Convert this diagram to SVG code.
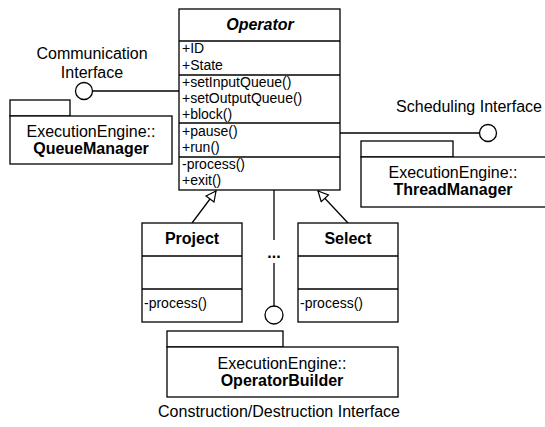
<svg xmlns="http://www.w3.org/2000/svg" width="545" height="427" viewBox="0 0 545 427">
<defs>
<style>
.b{fill:#fff;stroke:#000;stroke-width:1.3}
.l{fill:none;stroke:#000;stroke-width:1.3}
text{font-family:"Liberation Sans",Arial,sans-serif;fill:#000}
.m{font-size:14px}
.t{font-size:16px}
.c{text-anchor:middle}
.bd{font-weight:bold}
</style>
<marker id="gen" viewBox="0 0 12 12" refX="11" refY="6" markerWidth="12" markerHeight="12" markerUnits="userSpaceOnUse" orient="auto">
<path d="M1,1 L11,6 L1,11 Z" fill="#fff" stroke="#000" stroke-width="1.2"/>
</marker>
</defs>
<g id="connectors">
<line class="l" x1="92" y1="91" x2="179" y2="91"/>
<circle class="b" cx="84" cy="91" r="8.5"/>
<line class="l" x1="340" y1="133" x2="479" y2="133"/>
<circle class="b" cx="488" cy="133" r="8.5"/>
<line class="l" x1="274" y1="190" x2="274" y2="240"/>
<line class="l" x1="274" y1="263" x2="274" y2="306"/>
<circle class="b" cx="274" cy="315" r="9"/>
<line class="l" x1="192" y1="223" x2="216" y2="191" marker-end="url(#gen)"/>
<line class="l" x1="348" y1="223" x2="318" y2="191" marker-end="url(#gen)"/>
<text class="t c bd" x="274" y="258">...</text>
</g>
<g id="operator">
<rect class="b" x="179" y="9" width="161" height="181"/>
<line class="l" x1="179" y1="41" x2="340" y2="41"/>
<line class="l" x1="179" y1="75" x2="340" y2="75"/>
<line class="l" x1="179" y1="123" x2="340" y2="123"/>
<line class="l" x1="179" y1="157" x2="340" y2="157"/>
<text class="t c bd" x="260" y="30" font-style="italic">Operator</text>
<text class="m" x="182" y="53">+ID</text>
<text class="m" x="182" y="70">+State</text>
<text class="m" x="182" y="87">+setInputQueue()</text>
<text class="m" x="182" y="103">+setOutputQueue()</text>
<text class="m" x="182" y="119">+block()</text>
<text class="m" x="182" y="136">+pause()</text>
<text class="m" x="182" y="152">+run()</text>
<text class="m" x="182" y="169">-process()</text>
<text class="m" x="182" y="185">+exit()</text>
</g>
<g id="comm-label">
<text class="t c" x="92" y="59">Communication</text>
<text class="t c" x="92" y="78">Interface</text>
</g>
<g id="queuemanager">
<rect class="b" x="10" y="100" width="60" height="16"/>
<rect class="b" x="10" y="116" width="162" height="48"/>
<text class="t c" x="91" y="137">ExecutionEngine::</text>
<text class="t c bd" x="91" y="154">QueueManager</text>
</g>
<g id="sched-label">
<text class="t c" x="469" y="112">Scheduling Interface</text>
</g>
<g id="threadmanager">
<rect class="b" x="361" y="141" width="92" height="16"/>
<rect class="b" x="361" y="157" width="200" height="50"/>
<text class="t c" x="453" y="178">ExecutionEngine::</text>
<text class="t c bd" x="453" y="195">ThreadManager</text>
</g>
<g id="project">
<rect class="b" x="142" y="223" width="100" height="99"/>
<line class="l" x1="142" y1="256" x2="242" y2="256"/>
<line class="l" x1="142" y1="289" x2="242" y2="289"/>
<text class="t c bd" x="192" y="244">Project</text>
<text class="m" x="144" y="308">-process()</text>
</g>
<g id="select">
<rect class="b" x="298" y="223" width="100" height="99"/>
<line class="l" x1="298" y1="256" x2="398" y2="256"/>
<line class="l" x1="298" y1="289" x2="398" y2="289"/>
<text class="t c bd" x="348" y="244">Select</text>
<text class="m" x="300" y="308">-process()</text>
</g>
<g id="operatorbuilder">
<rect class="b" x="167" y="331" width="116" height="16"/>
<rect class="b" x="167" y="347" width="231" height="50"/>
<text class="t c" x="282" y="369">ExecutionEngine::</text>
<text class="t c bd" x="282" y="386">OperatorBuilder</text>
</g>
<g id="constr-label">
<text class="t c" x="279" y="417">Construction/Destruction Interface</text>
</g>
</svg>
